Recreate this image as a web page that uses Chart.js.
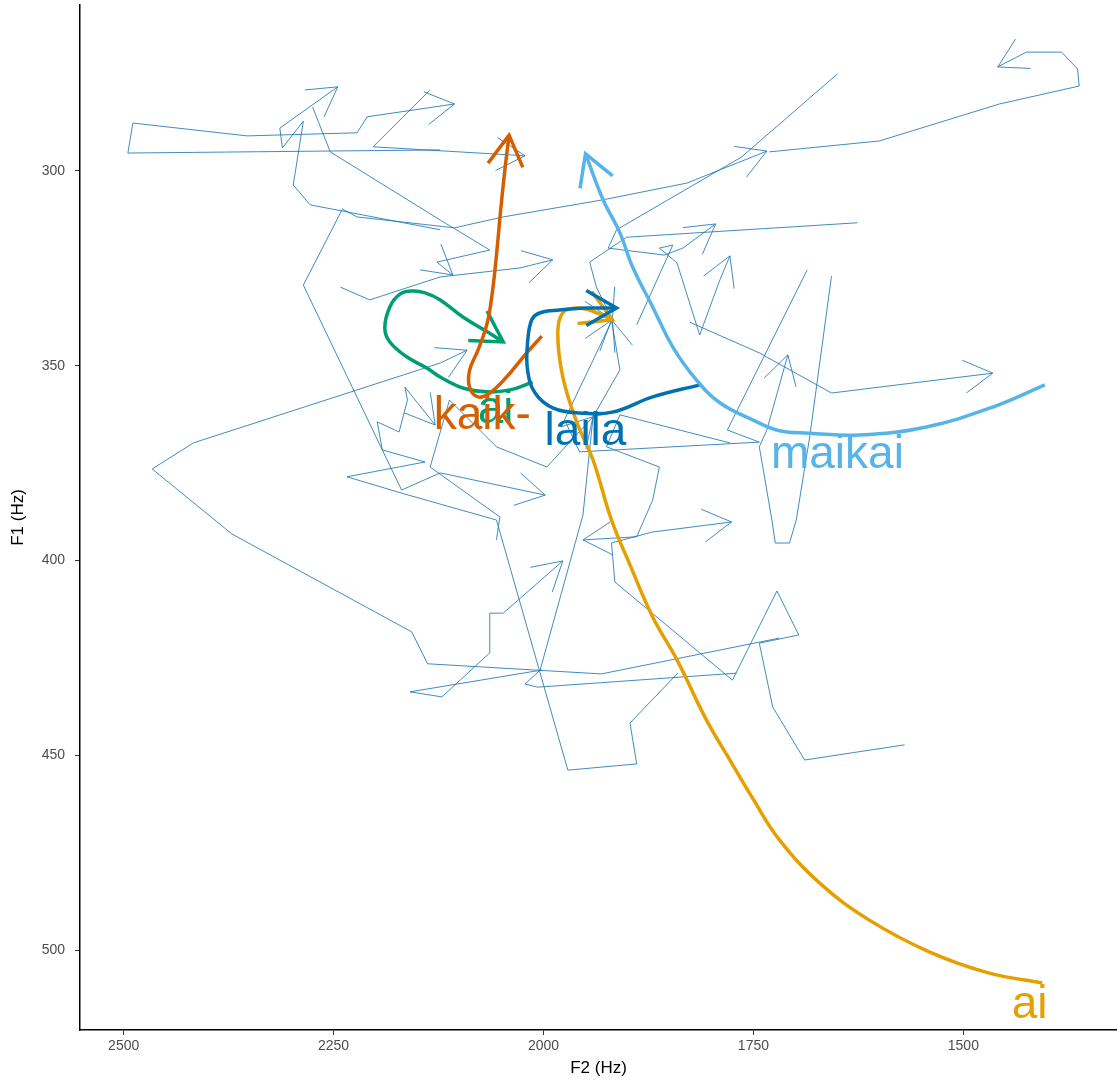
<!DOCTYPE html>
<html>
<head>
<meta charset="utf-8">
<title>F1 / F2 trajectories</title>
<script src="https://cdn.jsdelivr.net/npm/chart.js@4.4.1/dist/chart.umd.min.js"></script>
<style>
html, body { margin: 0; padding: 0; background: #fff; }
#wrap { width: 1117px; height: 1081px; }
</style>
</head>
<body>
<div id="wrap"><canvas id="c1"></canvas></div>
<script>
// =========================
// AXES
// =========================
const xTicks = [1500, 1750, 2000, 2250, 2500];
const yTicks = [300, 350, 400, 450, 500];

// =========================
// SMOOTHED WORD TRAJECTORIES (F2, F1 in Hz)
// =========================
const aiF2 = [1406, 1469, 1540, 1612, 1671, 1719, 1751, 1778, 1806, 1841, 1870, 1897, 1919, 1941, 1960, 1977, 1983, 1977, 1960, 1939, 1918];
const aiF1 = [508.4, 505.9, 500.5, 492.3, 482.8, 471.7, 461.0, 451.2, 440.9, 425.5, 414.5, 401.1, 389.6, 374.2, 364.7, 352.9, 341.6, 336.4, 335.2, 336.2, 338.2];

const greenF2 = [2013, 2040, 2067, 2096, 2123, 2139, 2163, 2183, 2189, 2183, 2171, 2156, 2141, 2123, 2096, 2067, 2048];
const greenF1 = [354.2, 356.2, 356.7, 355.7, 352.9, 350.6, 347.7, 343.9, 340.3, 334.9, 331.6, 330.8, 331.3, 333.1, 337.5, 341.3, 343.9];

const kaikF2 = [2002, 2020, 2044, 2064, 2078, 2088, 2088, 2078, 2067, 2061, 2056, 2051, 2046, 2041];
const kaikF1 = [342.4, 346.7, 352.9, 357.0, 358.0, 355.5, 351.1, 346.0, 339.0, 331.3, 321.6, 310.0, 299.7, 290.8];

const lailaF2 = [1814, 1870, 1918, 1957, 1989, 2010, 2019, 2019, 2014, 2004, 1981, 1949, 1913];
const lailaF1 = [354.9, 358.0, 361.9, 362.1, 360.8, 357.0, 351.1, 344.2, 338.2, 336.4, 335.7, 335.2, 335.2];

const maikaiF2 = [1403, 1465, 1544, 1624, 1683, 1719, 1751, 1790, 1818, 1846, 1870, 1894, 1909, 1929, 1950];
const maikaiF1 = [354.9, 360.6, 365.7, 367.8, 367.3, 366.7, 363.9, 359.5, 353.6, 345.2, 334.9, 324.6, 315.9, 307.4, 295.6];

// =========================
// WORD LABELS
// =========================
const labelWords = ["ai", "ai", "kaik-", "laila", "maikai"];
const labelF2 = [1421, 2057, 2073, 1950, 1650];
const labelF1 = [514.1, 361.5, 363.1, 367.2, 372.9];
const labelColors = ["#E69F00", "#009E73", "#D55E00", "#0072B2", "#56B4E9"];

// =========================
// SINGLE TOKENS [F2, F1]
// =========================
const token01 = [[2123,294.6],[2495,295.4],[2489,287.7],[2353,291.0],[2222,290.2],[2210,286.1],[2106,282.8]];
const token02 = [[2135,279.2],[2203,293.8],[2022,296.1]];
const token03 = [[2123,315.1],[2278,308.7],[2298,303.6],[2286,287.2],[2311,294.1],[2314,289.0],[2245,278.4]];
const token04 = [[2275,283.6],[2254,295.1],[2123,312.6],[2064,320.3],[2127,323.4],[2108,326.7]];
const token05 = [[2240,309.7],[2222,311.8],[2106,314.6],[2048,311.8],[1929,307.4],[1829,303.1],[1734,294.9]];
const token06 = [[1731,295.1],[1600,292.3],[1457,282.8],[1362,278.2],[1364,273.8],[1383,269.5],[1425,269.5],[1459,273.3]];
const token07 = [[1650,275.1],[1764,296.4],[1913,315.1],[1923,319.8],[1856,321.6],[1834,319.8],[1795,313.6]];
const token08 = [[1719,419.9],[1931,429.1],[2138,426.5],[2157,418.3],[2371,393.2],[2466,376.5],[2417,369.8],[2123,349.3],[2091,346.0]];
const token09 = [[2002,428.1],[2159,433.7],[2121,435.0],[2064,423.7],[2064,413.5],[2048,413.5],[1977,400.1]];
const token10 = [[2240,310.0],[2286,329.3],[2192,371.6],[2169,381.9],[2123,377.5],[1998,383.2]];
const token11 = [[1570,447.3],[1689,451.2],[1727,437.6],[1743,421.2],[1696,419.1],[1722,407.8],[1775,430.7],[1915,405.5],[1919,395.5],[1871,392.7],[1776,390.1]];
const token12 = [[1770,428.9],[2007,432.5],[2022,431.7],[2004,428.1],[1953,388.3],[1941,363.1],[1909,351.1],[1919,338.2]];
const token13 = [[1840,428.9],[1897,441.7],[1889,452.2],[1971,453.8],[2056,389.6],[2169,382.7],[2234,378.5],[2141,374.7],[2192,371.6],[2198,364.4],[2172,367.0],[2162,358.8],[2165,355.5],[2129,365.2]];
const token14 = [[1657,327.0],[1683,368.3],[1699,389.6],[1707,395.5],[1724,395.5],[1728,389.6],[1743,370.8],[1734,366.5],[1709,347.2]];
const token15 = [[1826,338.8],[1743,346.7],[1657,357.0],[1465,351.9]];
const token16 = [[1686,325.4],[1781,366.5],[1743,369.6],[1957,372.1],[1975,363.9],[1918,338.2]];
const token17 = [[1626,313.3],[1901,317.0],[1945,323.4],[1937,329.8],[1918,338.2]];
const token18 = [[1778,369.8],[1909,362.6],[1925,370.8],[1862,376.0],[1870,384.5],[1889,393.9],[1953,394.7]];
const token19 = [[2056,394.7],[2052,388.8],[2135,376.0],[2112,358.8],[2056,370.8],[1996,376.0],[1941,363.1]];
const token20 = [[2242,329.8],[2207,333.1],[2123,327.2],[2028,324.9],[1989,322.8]];
const token21 = [[1889,339.5],[1846,319.0],[1862,319.8],[1841,323.6],[1814,342.1],[1790,328.0],[1778,321.8]];

const tokens = [token01, token02, token03, token04, token05, token06, token07, token08, token09, token10,
                token11, token12, token13, token14, token15, token16, token17, token18, token19, token20, token21];

// =========================
// HELPERS
// =========================
function toPoints(xs, ys){
    return xs.map((x, i) => ({ x: x, y: ys[i] }));
}

function thickSet(xs, ys, color, order){
    return {
        data: toPoints(xs, ys),
        borderColor: color,
        borderWidth: 3.5,
        tension: 0.4,
        order: order,
        arrowLen: 35
    };
}

// no side padding from tick labels, plot area is fixed by layout
function fixBox(s, size){
    if(s.isHorizontal()) s.height = size; else s.width = size;
    s.paddingTop = 0;
    s.paddingBottom = 0;
    s.paddingLeft = 0;
    s.paddingRight = 0;
}

// arrow head at the end of every path
const arrowHeads = {
    id: "arrowHeads",
    afterDatasetDraw(chart, args){
        const ds = chart.data.datasets[args.index];
        const pts = args.meta.data;
        if(pts.length < 2) return;

        const a = pts[pts.length - 2];
        const b = pts[pts.length - 1];
        const ang = Math.atan2(b.y - a.y, b.x - a.x);
        const len = ds.arrowLen;
        const ctx = chart.ctx;

        ctx.save();
        ctx.strokeStyle = ds.borderColor;
        ctx.lineWidth = ds.borderWidth;
        ctx.lineJoin = "miter";
        ctx.beginPath();
        ctx.moveTo(b.x - len * Math.cos(ang - Math.PI / 6), b.y - len * Math.sin(ang - Math.PI / 6));
        ctx.lineTo(b.x, b.y);
        ctx.lineTo(b.x - len * Math.cos(ang + Math.PI / 6), b.y - len * Math.sin(ang + Math.PI / 6));
        ctx.stroke();
        ctx.restore();
    }
};

// word labels
const wordLabels = {
    id: "wordLabels",
    afterDatasetsDraw(chart){
        const ctx = chart.ctx;
        const sx = chart.scales.x;
        const sy = chart.scales.y;

        ctx.save();
        ctx.font = "46px 'Liberation Sans', Arial, sans-serif";
        ctx.textAlign = "center";
        ctx.textBaseline = "middle";
        labelWords.forEach((w, i) => {
            ctx.fillStyle = labelColors[i];
            ctx.fillText(w, sx.getPixelForValue(labelF2[i]), sy.getPixelForValue(labelF1[i]));
        });
        ctx.restore();
    }
};

// =========================
// DATASETS
// =========================
let datasets = tokens.map(t => ({
    data: t.map(p => ({ x: p[0], y: p[1] })),
    borderColor: "rgba(31,120,180,0.85)",
    borderWidth: 1,
    tension: 0,
    order: 10,
    arrowLen: 33
}));

datasets.push(thickSet(aiF2, aiF1, "#E69F00", 5));
datasets.push(thickSet(greenF2, greenF1, "#009E73", 4));
datasets.push(thickSet(kaikF2, kaikF1, "#D55E00", 3));
datasets.push(thickSet(lailaF2, lailaF1, "#0072B2", 2));
datasets.push(thickSet(maikaiF2, maikaiF1, "#56B4E9", 1));

// =========================
// CHART
// =========================
const ctx1 = document.getElementById("c1").getContext("2d");
const tickFont = { family: "'Liberation Sans', Arial, sans-serif", size: 14 };
const titleFont = { family: "'Liberation Sans', Arial, sans-serif", size: 17 };

let chart1 = new Chart(ctx1, {
    type: "scatter",
    data: { datasets: datasets },
    options: {
        responsive: true,
        maintainAspectRatio: false,
        animation: false,
        showLine: true,
        elements: {
            point: { radius: 0, hoverRadius: 0 },
            line: { fill: false, borderCapStyle: "butt" }
        },
        layout: { padding: { top: 5, left: 0, right: 0, bottom: 0 } },
        plugins: {
            legend: { display: false },
            tooltip: { enabled: false }
        },
        scales: {
            x: {
                type: "linear",
                reverse: true,
                min: 1317,
                max: 2552,
                afterBuildTicks: s => { s.ticks = xTicks.map(v => ({ value: v })); },
                afterFit: s => fixBox(s, 51),
                border: { display: true, color: "#000", width: 1.5 },
                grid: { drawOnChartArea: false, drawTicks: true, tickLength: 5, color: "#333" },
                ticks: {
                    color: "#4d4d4d",
                    padding: 3,
                    maxRotation: 0,
                    font: tickFont,
                    callback: v => String(v)
                },
                title: {
                    display: true,
                    text: "F2 (Hz)",
                    color: "#000",
                    padding: { top: 0, bottom: 2 },
                    font: titleFont
                }
            },
            y: {
                type: "linear",
                reverse: true,
                min: 257.4,
                max: 520.5,
                afterBuildTicks: s => { s.ticks = yTicks.map(v => ({ value: v })); },
                afterFit: s => fixBox(s, 80),
                border: { display: true, color: "#000", width: 1.5 },
                grid: { drawOnChartArea: false, drawTicks: true, tickLength: 5, color: "#333" },
                ticks: {
                    color: "#4d4d4d",
                    padding: 10,
                    font: tickFont,
                    callback: v => String(v)
                },
                title: {
                    display: true,
                    text: "F1 (Hz)",
                    color: "#000",
                    padding: { top: 8, bottom: 0 },
                    font: titleFont
                }
            }
        }
    },
    plugins: [arrowHeads, wordLabels]
});
</script>
</body>
</html>
